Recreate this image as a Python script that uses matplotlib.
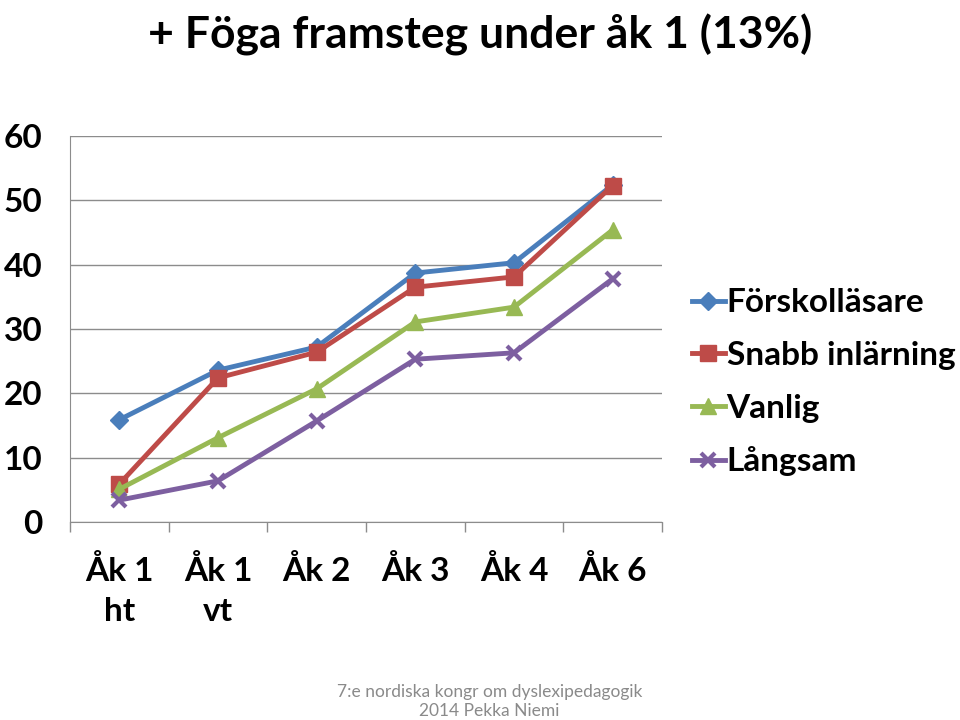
import numpy as np
import matplotlib
matplotlib.use('Agg')
from matplotlib import pyplot as plt

categories = ['Åk 1\nht', 'Åk 1\nvt', 'Åk 2', 'Åk 3', 'Åk 4', 'Åk 6']
forskollasare = [15.9, 23.6, 27.2, 38.7, 40.3, 52.4]
snabb = [5.9, 22.4, 26.4, 36.5, 38.1, 52.3]
vanlig = [5.1, 13.1, 20.7, 31.1, 33.4, 45.4]
langsam = [3.4, 6.4, 15.7, 25.3, 26.3, 37.8]

series = [
    ('Förskolläsare', forskollasare, '#4A7EBB', 'D', 9),
    ('Snabb inlärning', snabb, '#BE4B48', 's', 11),
    ('Vanlig', vanlig, '#98B954', '^', 11),
    ('Långsam', langsam, '#7D5FA0', 'x', 10),
]

plt.rcParams['font.family'] = ['Lato', 'DejaVu Sans']

fig = plt.figure(figsize=(9.6, 7.2), dpi=100)
ax = fig.add_axes([70 / 960, 1 - 522 / 720, 592 / 960, 386 / 720])

x = np.arange(len(categories))
for name, vals, col, mk, ms in series:
    ax.plot(x, vals, color=col, lw=3.5, marker=mk, markersize=ms,
            markeredgewidth=3 if mk == 'x' else 1, markeredgecolor=col,
            label=name, zorder=3)

ax.set_xlim(-0.5, len(categories) - 0.5)
ax.set_ylim(0, 60)
ax.set_yticks(range(0, 61, 10))
ax.set_yticklabels([str(v) for v in range(0, 61, 10)], fontsize=24, fontweight='bold')
ax.tick_params(axis='y', length=0, pad=20)
ax.yaxis.grid(True, color='#8c8c8c', lw=1)
ax.set_axisbelow(True)

ax.set_xticks(x)
ax.set_xticklabels(categories, fontsize=24, fontweight='bold', linespacing=1.45)
ax.set_xticks(np.arange(-0.5, len(categories), 1), minor=True)
ax.tick_params(axis='x', which='major', length=0, pad=24)
ax.tick_params(axis='x', which='minor', length=7, color='#8c8c8c', width=1)

for s in ['top', 'right']:
    ax.spines[s].set_visible(False)
for s in ['left', 'bottom']:
    ax.spines[s].set_color('#8c8c8c')

ax.legend(loc='upper left', bbox_to_anchor=(1.05, 0.605), frameon=False,
          prop={'size': 24, 'weight': 'bold'}, handlelength=1.0,
          handletextpad=0.05, labelspacing=0.71, borderaxespad=0, borderpad=0)

fig.text(0.5, 0.952, '+ Föga framsteg under åk 1 (13%)', ha='center', va='center',
         fontsize=32, fontweight='bold')

fig.text(0.51, 0.026, '7:e nordiska kongr om dyslexipedagogik\n2014 Pekka Niemi',
         ha='center', va='center', fontsize=12.5, color='#8a8a8a', linespacing=1.25)

fig.savefig('out.png', dpi=100)
